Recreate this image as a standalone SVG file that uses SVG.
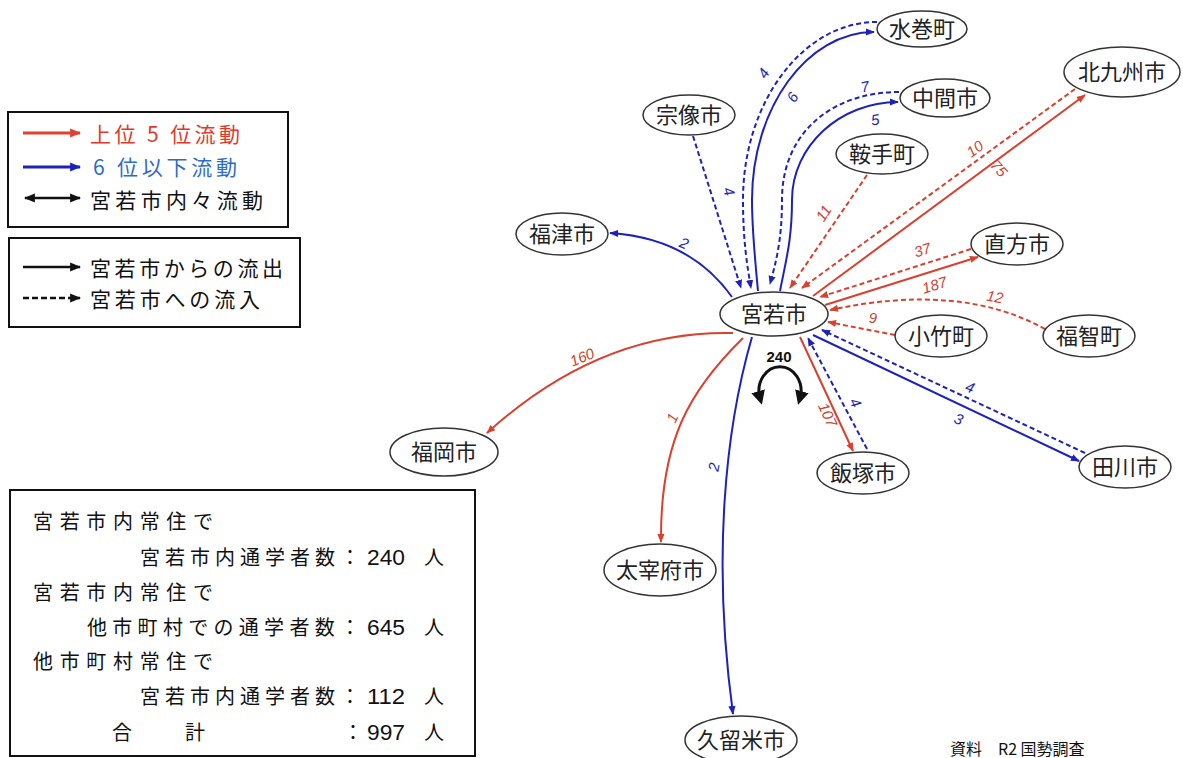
<svg xmlns="http://www.w3.org/2000/svg" width="1183" height="758" viewBox="0 0 1183 758">
<style>
.nd ellipse{fill:#fff;stroke:#333;stroke-width:1.5}
.nd text{font-family:"Noto Sans CJK JP","Noto Sans",sans-serif;font-size:22px;fill:#222;text-anchor:middle}
.r{fill:none;stroke:#d8412f;stroke-width:2}
.b{fill:none;stroke:#1e22b8;stroke-width:2}
.d{stroke-dasharray:5 3}
.lr{font-family:"Liberation Sans",sans-serif;font-style:italic;font-size:15px;fill:#cc4432;text-anchor:middle}
.lb{font-family:"Liberation Sans",sans-serif;font-style:italic;font-size:15px;fill:#2326b0;text-anchor:middle}
.lg{font-family:"Noto Sans CJK JP",sans-serif;font-size:21px}
.sm{font-family:"Noto Sans CJK JP",sans-serif;font-size:20px;fill:#111}
.num{font-family:"Liberation Sans",sans-serif;font-size:22px;fill:#111}
.box{fill:#fff;stroke:#111;stroke-width:2}
</style>
<defs>
<marker id="ar" viewBox="0 0 10 10" refX="9" refY="5" markerWidth="9" markerHeight="9" markerUnits="userSpaceOnUse" orient="auto"><path d="M0,1 L10,5 L0,9 z" fill="#d8412f"/></marker>
<marker id="ab" viewBox="0 0 10 10" refX="9" refY="5" markerWidth="9" markerHeight="9" markerUnits="userSpaceOnUse" orient="auto"><path d="M0,1 L10,5 L0,9 z" fill="#1e22b8"/></marker>
<marker id="ak" viewBox="0 0 10 10" refX="9" refY="5" markerWidth="11" markerHeight="11" markerUnits="userSpaceOnUse" orient="auto-start-reverse"><path d="M0,1 L10,5 L0,9 z" fill="#111"/></marker>
<marker id="lr" viewBox="0 0 10 10" refX="9" refY="5" markerWidth="11" markerHeight="11" markerUnits="userSpaceOnUse" orient="auto"><path d="M0,1 L10,5 L0,9 z" fill="#e0402f"/></marker>
<marker id="lb" viewBox="0 0 10 10" refX="9" refY="5" markerWidth="11" markerHeight="11" markerUnits="userSpaceOnUse" orient="auto"><path d="M0,1 L10,5 L0,9 z" fill="#1e22b8"/></marker>
<marker id="loop" viewBox="0 0 10 10" refX="5" refY="5" markerWidth="14" markerHeight="14" markerUnits="userSpaceOnUse" orient="auto-start-reverse"><path d="M0,0 L10,5 L0,10 z" fill="#111"/></marker>
</defs>
<rect width="1183" height="758" fill="#fff"/>

<g id="legend1">
<rect class="box" x="8" y="112" width="280" height="115"/>
<line x1="23" y1="133" x2="80" y2="133" stroke="#e0402f" stroke-width="3" marker-end="url(#lr)"/>
<text class="lg" x="90" y="142" fill="#e0392c" textLength="150" lengthAdjust="spacing">上位 5 位流動</text>
<line x1="23" y1="167" x2="80" y2="167" stroke="#1e22b8" stroke-width="3" marker-end="url(#lb)"/>
<text class="lg" x="93" y="175" fill="#2e6bc9" textLength="144" lengthAdjust="spacing">6 位以下流動</text>
<line x1="25" y1="198" x2="80" y2="198" stroke="#111" stroke-width="2.5" marker-start="url(#ak)" marker-end="url(#ak)"/>
<text class="lg" x="90" y="208" fill="#111" textLength="173" lengthAdjust="spacing">宮若市内々流動</text>
</g>
<g id="legend2">
<rect class="box" x="9" y="238" width="291" height="89"/>
<line x1="23" y1="267" x2="80" y2="267" stroke="#111" stroke-width="2.5" marker-end="url(#ak)"/>
<text class="lg" x="90" y="276" fill="#111" textLength="193" lengthAdjust="spacing">宮若市からの流出</text>
<line x1="23" y1="298" x2="80" y2="298" stroke="#111" stroke-width="2.5" stroke-dasharray="6 3" marker-end="url(#ak)"/>
<text class="lg" x="90" y="307" fill="#111" textLength="170" lengthAdjust="spacing">宮若市への流入</text>
</g>

<g id="summary">
<rect class="box" x="10" y="490" width="465" height="266"/>
<text class="sm" x="33" y="529" textLength="180" lengthAdjust="spacing">宮若市内常住で</text>
<text class="sm" x="140" y="565" textLength="220" lengthAdjust="spacing">宮若市内通学者数：</text>
<text class="num" x="367" y="565" textLength="38" lengthAdjust="spacingAndGlyphs">240</text>
<text class="sm" x="424" y="565">人</text>
<text class="sm" x="33" y="600" textLength="180" lengthAdjust="spacing">宮若市内常住で</text>
<text class="sm" x="87" y="635" textLength="273" lengthAdjust="spacing">他市町村での通学者数：</text>
<text class="num" x="367" y="635" textLength="38" lengthAdjust="spacingAndGlyphs">645</text>
<text class="sm" x="424" y="635">人</text>
<text class="sm" x="33" y="669" textLength="180" lengthAdjust="spacing">他市町村常住で</text>
<text class="sm" x="140" y="704" textLength="220" lengthAdjust="spacing">宮若市内通学者数：</text>
<text class="num" x="367" y="704" textLength="38" lengthAdjust="spacingAndGlyphs">112</text>
<text class="sm" x="424" y="704">人</text>
<text class="sm" x="112" y="740">合</text>
<text class="sm" x="185" y="740">計</text>
<text class="sm" x="343" y="740">：</text>
<text class="num" x="367" y="740" textLength="38" lengthAdjust="spacingAndGlyphs">997</text>
<text class="sm" x="424" y="740">人</text>
</g>

<g id="connectors">
<path class="b" d="M758 291 C755 260,752 230,752 200 C752 108,807 32,874 32" marker-end="url(#ab)"/>
<path class="b d" d="M877 22 C803 22,743 102,743 200 C743 240,747 265,751 288" marker-end="url(#ab)"/>
<path class="b" d="M780 291 C786 260,792 240,792 200 C792 146,840 102,898 102" marker-end="url(#ab)"/>
<path class="b d" d="M899 92 C835 92,782 130,782 200 C782 240,776 262,770 284" marker-end="url(#ab)"/>
<path class="b d" d="M693 136 L741 288" marker-end="url(#ab)"/>
<path class="b" d="M732 297 Q690 238,610 233" marker-end="url(#ab)"/>
<path class="r d" d="M867 175 L790 288" marker-end="url(#ar)"/>
<path class="r" d="M813 296 L1085 95" marker-end="url(#ar)"/>
<path class="r d" d="M1075 89 L802 288" marker-end="url(#ar)"/>
<path class="r" d="M825 305 L978 257" marker-end="url(#ar)"/>
<path class="r d" d="M971 249 L820 297" marker-end="url(#ar)"/>
<path class="r d" d="M1045 329 Q960 282,830 310" marker-end="url(#ar)"/>
<path class="r d" d="M895 335 L828 322" marker-end="url(#ar)"/>
<path class="b" d="M813 335 L1079 461" marker-end="url(#ab)"/>
<path class="b d" d="M1085 453 L822 330" marker-end="url(#ab)"/>
<path class="r" d="M800 337 L853 451" marker-end="url(#ar)"/>
<path class="b d" d="M867 449 L808 338" marker-end="url(#ab)"/>
<path class="r" d="M733 333 Q600 330,487 433" marker-end="url(#ar)"/>
<path class="r" d="M743 338 C690 390,660 440,661 542" marker-end="url(#ar)"/>
<path class="b" d="M752 337 C725 430,712 560,733 714" marker-end="url(#ab)"/>
<path d="M760 398 A21 24 0 1 1 800 398" fill="none" stroke="#111" stroke-width="3" marker-start="url(#loop)" marker-end="url(#loop)"/>
</g>

<g id="labels">
<text class="lb" transform="translate(768,76) rotate(-58)">4</text>
<text class="lb" transform="translate(797,100) rotate(-58)">6</text>
<text class="lb" transform="translate(866,92) rotate(-12)">7</text>
<text class="lb" transform="translate(876,125) rotate(-8)">5</text>
<text class="lb" transform="translate(724,193) rotate(72)">4</text>
<text class="lb" transform="translate(682,248) rotate(22)">2</text>
<text class="lr" transform="translate(828,216) rotate(-57)">11</text>
<text class="lr" transform="translate(978,153) rotate(-36)">10</text>
<text class="lr" transform="translate(995,172) rotate(48)">75</text>
<text class="lr" transform="translate(924,255) rotate(-17)">37</text>
<text class="lr" transform="translate(936,290) rotate(-17)">187</text>
<text class="lr" transform="translate(994,302) rotate(10)">12</text>
<text class="lr" transform="translate(873,323)">9</text>
<text class="lb" transform="translate(968,392) rotate(22)">4</text>
<text class="lb" transform="translate(957,424) rotate(20)">3</text>
<text class="lr" transform="translate(823,417) rotate(65)">107</text>
<text class="lb" transform="translate(851,405) rotate(63)">4</text>
<text class="lr" transform="translate(584,362) rotate(-22)">160</text>
<text class="lr" transform="translate(677,420) rotate(-65)">1</text>
<text class="lb" transform="translate(719,468) rotate(-80)">2</text>
<text x="779" y="362" font-family="Liberation Sans,sans-serif" font-weight="bold" font-size="15" fill="#111" text-anchor="middle">240</text>
</g>

<g id="n-miyawaka" class="nd"><ellipse cx="774" cy="314" rx="54" ry="22"/><text x="774" y="322">宮若市</text></g>
<g id="n-mizumaki" class="nd"><ellipse cx="922" cy="29" rx="45" ry="18"/><text x="922" y="37">水巻町</text></g>
<g id="n-nakama" class="nd"><ellipse cx="945" cy="98" rx="45" ry="19"/><text x="945" y="106">中間市</text></g>
<g id="n-munakata" class="nd"><ellipse cx="689" cy="115" rx="46" ry="20"/><text x="689" y="123">宗像市</text></g>
<g id="n-kurate" class="nd"><ellipse cx="882" cy="154" rx="46" ry="20"/><text x="882" y="162">鞍手町</text></g>
<g id="n-kitakyushu" class="nd"><ellipse cx="1122" cy="72" rx="58" ry="25"/><text x="1122" y="80">北九州市</text></g>
<g id="n-fukutsu" class="nd"><ellipse cx="562" cy="234" rx="46" ry="21"/><text x="562" y="242">福津市</text></g>
<g id="n-nogata" class="nd"><ellipse cx="1017" cy="244" rx="46" ry="21"/><text x="1017" y="252">直方市</text></g>
<g id="n-kotake" class="nd"><ellipse cx="941" cy="336" rx="46" ry="21"/><text x="941" y="344">小竹町</text></g>
<g id="n-fukuchi" class="nd"><ellipse cx="1089" cy="336" rx="46" ry="21"/><text x="1089" y="344">福智町</text></g>
<g id="n-iizuka" class="nd"><ellipse cx="863" cy="473" rx="46" ry="21"/><text x="863" y="481">飯塚市</text></g>
<g id="n-tagawa" class="nd"><ellipse cx="1125" cy="467" rx="46" ry="21"/><text x="1125" y="475">田川市</text></g>
<g id="n-fukuoka" class="nd"><ellipse cx="444" cy="452" rx="54" ry="24"/><text x="444" y="460">福岡市</text></g>
<g id="n-dazaifu" class="nd"><ellipse cx="660" cy="570" rx="56" ry="26"/><text x="660" y="578">太宰府市</text></g>
<g id="n-kurume" class="nd"><ellipse cx="741" cy="740" rx="56" ry="24"/><text x="741" y="748">久留米市</text></g>

<text x="950" y="755" font-family="Noto Sans CJK JP,sans-serif" font-size="16" fill="#111">資料　R2 国勢調査</text>
</svg>
